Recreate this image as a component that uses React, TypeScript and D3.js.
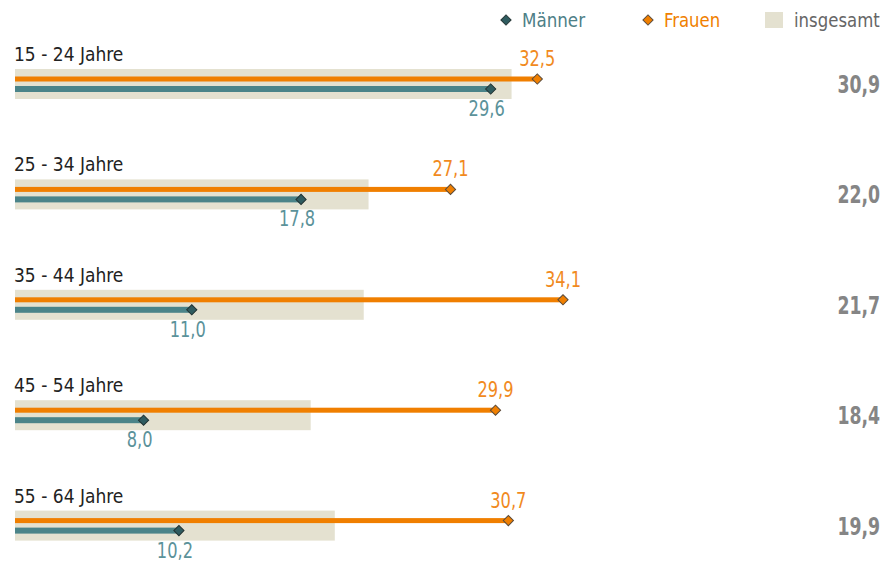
import React, { useEffect, useRef } from 'react';
import * as d3 from 'd3';

// Altersgruppen und Werte (in %)
const ageGroups = ['15 - 24 Jahre', '25 - 34 Jahre', '35 - 44 Jahre', '45 - 54 Jahre', '55 - 64 Jahre'];
const maenner = [29.6, 17.8, 11.0, 8.0, 10.2];
const frauen = [32.5, 27.1, 34.1, 29.9, 30.7];
const insgesamt = [30.9, 22.0, 21.7, 18.4, 19.9];
const legendLabels = ['Männer', 'Frauen', 'insgesamt'];

const FONT = '"DejaVu Sans Condensed", "Liberation Sans Narrow", sans-serif';

const App = () => {
  const ref = useRef<SVGSVGElement>(null);

  useEffect(() => {
    const svg = d3.select(ref.current);
    svg.selectAll('*').remove();

    const fmt = d3
      .formatLocale({ decimal: ',', thousands: '.', grouping: [3], currency: ['', '€'] })
      .format('.1f');

    const orange = '#f07f00';
    const teal = '#4b8489';
    const tealDark = '#2f5c60';
    const tealText = '#5b929a';
    const band = '#e4e1d0';

    const x = d3.scaleLinear().domain([0, 34.1]).range([15, 563]);
    const y = d3.scaleBand<number>().domain(d3.range(ageGroups.length)).range([69, 621]);
    const bandH = 30;

    const diamond = d3.symbol().type(d3.symbolSquare).size(52);

    const g = svg.append('g').style('font-family', FONT);

    const rows = g
      .selectAll('g.row')
      .data(ageGroups)
      .enter()
      .append('g')
      .attr('class', 'row')
      .attr('transform', (_, i) => `translate(0,${y(i)})`);

    // grey total band
    rows
      .append('rect')
      .attr('x', x(0))
      .attr('y', 0)
      .attr('width', (_, i) => x(insgesamt[i]) - x(0))
      .attr('height', bandH)
      .attr('fill', band);

    // age label
    rows
      .append('text')
      .attr('transform', 'translate(14,-8) scale(0.95,1)')
      .attr('font-size', 20)
      .attr('fill', '#222')
      .text((d) => d);

    // Frauen line
    rows
      .append('rect')
      .attr('x', x(0))
      .attr('y', 7.5)
      .attr('width', (_, i) => x(frauen[i]) - x(0))
      .attr('height', 5)
      .attr('fill', orange);

    // Männer line
    rows
      .append('rect')
      .attr('x', x(0))
      .attr('y', 17)
      .attr('width', (_, i) => x(maenner[i]) - x(0))
      .attr('height', 6)
      .attr('fill', teal);

    rows
      .append('path')
      .attr('d', diamond)
      .attr('transform', (_, i) => `translate(${x(frauen[i])},10) rotate(45)`)
      .attr('fill', orange)
      .attr('stroke', '#5a4a3a')
      .attr('stroke-width', 1);

    rows
      .append('path')
      .attr('d', diamond)
      .attr('transform', (_, i) => `translate(${x(maenner[i])},20) rotate(45)`)
      .attr('fill', tealDark)
      .attr('stroke', '#233')
      .attr('stroke-width', 1);

    rows
      .append('text')
      .attr('transform', (_, i) => `translate(${x(frauen[i])},-3) scale(0.86,1)`)
      .attr('text-anchor', 'middle')
      .attr('font-size', 21)
      .attr('fill', '#f18a1e')
      .text((_, i) => fmt(frauen[i]));

    rows
      .append('text')
      .attr('transform', (_, i) => `translate(${x(maenner[i]) - 4},47) scale(0.86,1)`)
      .attr('text-anchor', 'middle')
      .attr('font-size', 21)
      .attr('fill', tealText)
      .text((_, i) => fmt(maenner[i]));

    rows
      .append('text')
      .attr('transform', 'translate(880,24) scale(0.8,1)')
      .attr('text-anchor', 'end')
      .attr('font-size', 24)
      .attr('font-weight', 'bold')
      .attr('fill', '#858585')
      .text((_, i) => fmt(insgesamt[i]));

    // Legend
    const legend = g.append('g');
    legend
      .append('path')
      .attr('d', diamond)
      .attr('transform', 'translate(506,20) rotate(45)')
      .attr('fill', tealDark)
      .attr('stroke', '#233');
    legend
      .append('text')
      .attr('transform', 'translate(522,27) scale(0.93,1)')
      .attr('font-size', 20)
      .attr('fill', '#4e8087')
      .text(legendLabels[0]);
    legend
      .append('path')
      .attr('d', diamond)
      .attr('transform', 'translate(648,20) rotate(45)')
      .attr('fill', orange)
      .attr('stroke', '#5a4a3a');
    legend
      .append('text')
      .attr('transform', 'translate(664,27) scale(0.92,1)')
      .attr('font-size', 20)
      .attr('fill', orange)
      .text(legendLabels[1]);
    legend
      .append('rect')
      .attr('x', 765)
      .attr('y', 12)
      .attr('width', 18)
      .attr('height', 16)
      .attr('fill', band);
    legend
      .append('text')
      .attr('transform', 'translate(794,27) scale(0.92,1)')
      .attr('font-size', 20)
      .attr('fill', '#666')
      .text(legendLabels[2]);
  }, []);

  return (
    <svg
      ref={ref}
      width={890}
      height={562}
      style={{ position: 'absolute', left: 0, top: 0, background: '#fff' }}
    />
  );
};

export default App;
